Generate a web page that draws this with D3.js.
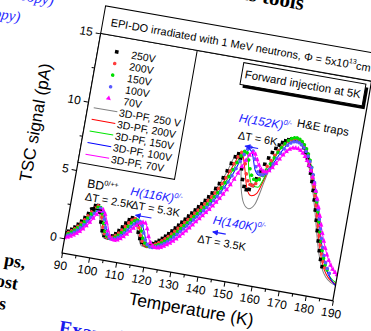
<!DOCTYPE html>
<html>
<head>
<meta charset="utf-8">
<script src="https://cdn.jsdelivr.net/npm/d3@7"></script>
<style>
  body { margin: 0; background: #fff; }
  svg { display: block; }
</style>
</head>
<body>
<svg id="chart" width="371" height="331"></svg>
<script>
// ---- data -------------------------------------------------------------
// TSC signal (pA) measured at 1 K steps starting at 90 K
const tempStart = 90;
const meas250 = [0.40,0.55,0.72,0.92,1.15,1.42,1.72,2.05,2.40,2.70,2.75,2.30,1.60,1.00,0.68,0.58,0.62,0.76,0.96,1.22,
  1.52,1.84,2.12,2.30,2.24,1.88,1.35,0.92,0.66,0.56,0.56,0.62,0.72,0.86,1.02,1.20,1.40,1.62,1.86,2.10,
  2.35,2.60,2.86,3.12,3.38,3.64,3.90,4.16,4.44,4.74,5.06,5.42,5.82,6.28,6.82,7.40,7.92,8.18,7.90,7.15,
  6.40,5.92,5.72,5.78,6.10,6.62,7.20,7.76,8.25,8.68,9.02,9.30,9.52,9.68,9.80,9.88,9.92,9.90,9.82,9.66,
  9.42,9.10,8.70,8.22,7.70,7.12,6.50,5.84,5.14,4.42,3.70,2.98,2.30,1.70,1.20];
const meas200 = [0.32,0.45,0.62,0.80,1.02,1.28,1.56,1.88,2.22,2.54,2.72,2.55,1.95,1.28,0.82,0.60,0.58,0.66,0.82,1.04,
  1.30,1.60,1.90,2.14,2.26,2.12,1.68,1.15,0.76,0.56,0.50,0.52,0.60,0.72,0.86,1.03,1.22,1.42,1.64,1.88,
  2.12,2.37,2.62,2.88,3.14,3.40,3.66,3.92,4.19,4.47,4.77,5.10,5.46,5.86,6.32,6.85,7.42,7.96,8.32,8.20,
  7.55,6.85,6.38,6.14,6.10,6.28,6.66,7.14,7.64,8.10,8.52,8.88,9.20,9.46,9.68,9.84,9.94,9.96,9.90,9.76,
  9.54,9.26,8.90,8.46,7.96,7.40,6.80,6.16,5.48,4.78,4.06,3.36,2.70,2.10,1.58,1.16];
const meas150 = [0.25,0.36,0.52,0.70,0.90,1.14,1.42,1.72,2.06,2.38,2.62,2.64,2.20,1.55,1.00,0.68,0.56,0.58,0.70,0.88,
  1.10,1.36,1.64,1.92,2.12,2.20,1.98,1.48,0.98,0.66,0.50,0.46,0.50,0.60,0.72,0.87,1.04,1.23,1.44,1.66,
  1.90,2.14,2.39,2.64,2.90,3.16,3.42,3.68,3.94,4.22,4.50,4.82,5.16,5.54,5.96,6.44,6.98,7.54,8.06,8.42,
  8.36,7.86,7.26,6.82,6.56,6.50,6.62,6.94,7.38,7.86,8.34,8.78,9.16,9.48,9.74,9.92,10.02,10.04,9.98,9.84,
  9.64,9.38,9.04,8.62,8.14,7.60,7.02,6.40,5.74,5.06,4.36,3.66,2.98,2.36,1.82,1.38,1.04];
const meas100 = [0.15,0.25,0.38,0.54,0.73,0.95,1.20,1.50,1.82,2.14,2.42,2.58,2.40,1.86,1.26,0.82,0.58,0.52,0.58,0.72,
  0.90,1.12,1.37,1.64,1.88,2.06,2.14,1.88,1.36,0.90,0.60,0.46,0.44,0.50,0.60,0.72,0.87,1.04,1.24,1.45,
  1.68,1.92,2.16,2.41,2.66,2.92,3.18,3.44,3.70,3.97,4.25,4.55,4.87,5.22,5.60,6.04,6.54,7.10,7.66,8.20,
  8.62,8.80,8.56,8.00,7.48,7.14,6.98,6.98,7.14,7.46,7.88,8.32,8.74,9.10,9.40,9.60,9.72,9.76,9.72,9.60,
  9.42,9.18,8.88,8.52,8.10,7.62,7.08,6.50,5.88,5.22,4.54,3.86,3.20,2.58,2.02,1.54,1.14,0.82];
const meas70 = [0.05,0.12,0.22,0.35,0.50,0.68,0.90,1.16,1.46,1.78,2.10,2.38,2.50,2.22,1.62,1.06,0.70,0.52,0.48,0.54,
  0.68,0.86,1.08,1.32,1.58,1.82,2.00,2.10,2.08,1.70,1.16,0.76,0.54,0.46,0.48,0.56,0.68,0.82,0.98,1.16,
  1.36,1.58,1.81,2.05,2.30,2.56,2.82,3.08,3.34,3.60,3.87,4.16,4.46,4.78,5.12,5.48,5.88,6.32,6.80,7.30,
  7.80,8.22,8.44,8.36,8.00,7.62,7.36,7.24,7.24,7.36,7.62,7.96,8.32,8.66,8.94,9.14,9.26,9.30,9.28,9.18,
  9.02,8.80,8.54,8.22,7.86,7.44,6.98,6.48,5.94,5.36,4.76,4.16,3.58,3.04,2.54,2.10,1.72,1.40,1.14,0.94,0.80];

// 3D-PF simulated curves at 2 K steps, 90 K to 190 K
const fitStep = 2;
const fit250 = [0.30,0.60,1.05,1.62,2.30,2.70,1.40,0.50,0.48,0.90,1.48,2.10,2.22,1.20,0.42,0.36,0.58,0.92,1.34,1.80,
  2.30,2.82,3.34,3.86,4.40,5.02,5.78,6.78,7.96,7.80,5.80,4.70,4.40,4.80,6.60,8.40,9.40,9.80,9.92,9.84,
  9.40,8.60,7.60,6.40,5.00,3.50,2.10,1.10,0.50,0.20,0.05];
const fit200 = [0.22,0.50,0.90,1.44,2.10,2.72,1.90,0.70,0.46,0.74,1.26,1.88,2.26,1.70,0.62,0.38,0.50,0.80,1.18,1.62,
  2.10,2.60,3.12,3.64,4.18,4.76,5.44,6.30,7.40,8.30,7.30,5.90,5.36,5.60,6.90,8.30,9.20,9.70,9.92,9.88,
  9.50,8.80,7.86,6.70,5.36,3.90,2.50,1.40,0.70,0.32,0.14];
const fit150 = [0.16,0.42,0.78,1.28,1.92,2.58,2.30,1.00,0.50,0.62,1.06,1.62,2.12,2.04,1.00,0.44,0.44,0.68,1.02,1.42,
  1.88,2.38,2.90,3.42,3.94,4.50,5.14,5.94,6.96,8.06,8.30,6.90,6.06,6.04,7.00,8.24,9.16,9.74,10.00,9.96,
  9.60,8.98,8.10,7.00,5.72,4.30,2.92,1.76,0.96,0.48,0.24];
const fit100 = [0.10,0.32,0.64,1.10,1.72,2.38,2.48,1.40,0.60,0.54,0.88,1.38,1.92,2.16,1.50,0.56,0.40,0.58,0.88,1.24,
  1.68,2.16,2.66,3.18,3.70,4.26,4.88,5.62,6.56,7.70,8.70,8.30,7.20,6.88,7.10,7.90,8.80,9.46,9.76,9.74,
  9.42,8.86,8.06,7.06,5.86,4.50,3.08,1.86,0.96,0.40,0.02];
const fit70 = [0.04,0.20,0.48,0.86,1.42,2.08,2.50,1.80,0.80,0.48,0.66,1.06,1.56,2.00,2.10,1.10,0.50,0.46,0.66,0.96,
  1.34,1.78,2.28,2.80,3.32,3.86,4.44,5.10,5.86,6.78,7.80,8.46,7.90,7.34,7.26,7.60,8.30,8.92,9.24,9.28,
  9.02,8.54,7.86,6.98,5.94,4.76,3.58,2.54,1.72,1.12,0.80];

const measLabels = ["250V", "200V", "150V", "100V", "70V"];
const fitLabels = ["3D-PF, 250 V", "3D-PF, 200V", "3D-PF, 150V", "3D-PF, 100V", "3D-PF, 70V"];
const xTicks = [90, 100, 110, 120, 130, 140, 150, 160, 170, 180, 190];
const yTicks = [0, 5, 10, 15];

// ---- styling ---------------------------------------------------------
const measColors = ["#000000", "#ff3c3c", "#00dd00", "#5a5aff", "#ff00ff"];
const measShapes = ["square", "circle", "circle", "circle", "triangle"];
const fitColors = ["#808080", "#ff0000", "#00e600", "#0000ff", "#ff00ff"];
const measSeries = [meas250, meas200, meas150, meas100, meas70];
const fitSeries = [fit250, fit200, fit150, fit100, fit70];

const sans = "'Liberation Sans', Arial, sans-serif";
const serif = "'Liberation Serif', 'Times New Roman', serif";

const W = 275, H = 223;
const svg = d3.select("#chart");
// the slide is photographed at a slight tilt
const base = svg.append("g").attr("transform", "translate(62,253) rotate(10)");
const plot = base.append("g").attr("transform", `translate(0,${-H})`);

const x = d3.scaleLinear().domain([90, 190]).range([0, W]);
const y = d3.scaleLinear().domain([-1.08, 15]).range([H, 0]);

// ---- axes ------------------------------------------------------------
function styleAxis(g) {
  g.select(".domain").remove();
  g.attr("font-family", sans).attr("font-size", 12);
  g.selectAll("line").attr("stroke", "#000").attr("stroke-width", 1);
  g.selectAll("text").attr("fill", "#000");
}
plot.append("g").attr("transform", `translate(0,${H})`)
  .call(d3.axisBottom(x).tickValues(xTicks).tickSize(5).tickPadding(3).tickSizeOuter(0))
  .call(styleAxis);
plot.append("g").attr("transform", `translate(0,${H})`)
  .call(d3.axisBottom(x).tickValues(xTicks.slice(0, -1).map(t => t + 5)).tickSize(3).tickFormat("").tickSizeOuter(0))
  .call(styleAxis);
plot.append("g")
  .call(d3.axisLeft(y).tickValues(yTicks).tickSize(5).tickPadding(3).tickSizeOuter(0))
  .call(styleAxis);
plot.append("g")
  .call(d3.axisLeft(y).tickValues([2.5, 7.5, 12.5]).tickSize(3).tickFormat("").tickSizeOuter(0))
  .call(styleAxis);

// ---- curves ----------------------------------------------------------
plot.append("clipPath").attr("id", "plotClip")
  .append("rect").attr("width", W).attr("height", H);
const area = plot.append("g").attr("clip-path", "url(#plotClip)");

const line = d3.line()
  .x(d => x(d[0])).y(d => y(d[1]))
  .curve(d3.curveMonotoneX);

fitSeries.forEach((vals, i) => {
  const pts = vals.map((v, k) => [tempStart + k * fitStep, v]);
  area.append("path").datum(pts)
    .attr("d", line)
    .attr("fill", "none")
    .attr("stroke", fitColors[i])
    .attr("stroke-width", 1);
});

const triangle = d3.symbol().type(d3.symbolTriangle).size(11);
function drawMarker(sel, shape, color) {
  if (shape === "square") {
    sel.append("rect").attr("x", -1.8).attr("y", -1.8).attr("width", 3.6).attr("height", 3.6).attr("fill", color);
  } else if (shape === "circle") {
    sel.append("circle").attr("r", 1.8).attr("fill", color);
  } else {
    sel.append("path").attr("d", triangle).attr("fill", color);
  }
}

measSeries.forEach((vals, i) => {
  const pts = vals.map((v, k) => [tempStart + k, v]);
  const g = area.append("g");
  pts.forEach(p => {
    const m = g.append("g").attr("transform", `translate(${x(p[0])},${y(p[1])})`);
    drawMarker(m, measShapes[i], measColors[i]);
  });
});

// frame
plot.append("rect").attr("width", W).attr("height", H)
  .attr("fill", "none").attr("stroke", "#000").attr("stroke-width", 1.2);

// ---- legend ----------------------------------------------------------
const legend = base.append("g");
legend.append("rect").attr("x", 0).attr("y", -H).attr("width", 98).attr("height", H - 92)
  .attr("fill", "#fff").attr("stroke", "#000").attr("stroke-width", 1);
const legY0 = -207.6, legStep = 11.8;
measLabels.forEach((lab, i) => {
  const yy = legY0 + i * legStep;
  const m = legend.append("g").attr("transform", `translate(19,${yy})`);
  drawMarker(m, measShapes[i], measColors[i]);
  legend.append("text").attr("x", 34).attr("y", yy + 4).text(lab)
    .attr("font-family", sans).attr("font-size", 10.5);
});
fitLabels.forEach((lab, i) => {
  const yy = legY0 + (i + 5) * legStep;
  legend.append("line").attr("x1", 6).attr("x2", 30).attr("y1", yy).attr("y2", yy)
    .attr("stroke", fitColors[i]).attr("stroke-width", 1);
  legend.append("text").attr("x", 32).attr("y", yy + 4).text(lab)
    .attr("font-family", sans).attr("font-size", 10.5);
});

// ---- title box & injection note -------------------------------------
base.append("rect").attr("x", 0).attr("y", -251).attr("width", 360).attr("height", 28)
  .attr("fill", "#fff").attr("stroke", "#000").attr("stroke-width", 1);
const title = base.append("text").attr("x", 8).attr("y", -232)
  .attr("font-family", sans).attr("font-size", 11);
title.append("tspan").text("EPI-DO irradiated with 1 MeV neutrons, \u03A6 = 5x10");
title.append("tspan").attr("font-size", 7).attr("dy", -5).text("13");
title.append("tspan").attr("dy", 5).text("cm");
title.append("tspan").attr("font-size", 7).attr("dy", -5).text("-2");

base.append("rect").attr("x", 149).attr("y", -216).attr("width", 124).attr("height", 22)
  .attr("fill", "#000");
base.append("rect").attr("x", 146).attr("y", -219).attr("width", 124).attr("height", 22)
  .attr("fill", "#fff").attr("stroke", "#000").attr("stroke-width", 1);
base.append("text").attr("x", 208).attr("y", -204).attr("text-anchor", "middle")
  .attr("font-family", sans).attr("font-size", 11.5).text("Forward injection at 5K");

// ---- peak annotations ------------------------------------------------
base.append("defs").append("marker").attr("id", "ahBlack")
  .attr("viewBox", "0 0 6 6").attr("refX", 5).attr("refY", 3)
  .attr("markerWidth", 5).attr("markerHeight", 5).attr("orient", "auto")
  .append("path").attr("d", "M0,0L6,3L0,6Z").attr("fill", "#000");
base.select("defs").append("marker").attr("id", "ahBlue")
  .attr("viewBox", "0 0 6 6").attr("refX", 5).attr("refY", 3)
  .attr("markerWidth", 5).attr("markerHeight", 5).attr("orient", "auto")
  .append("path").attr("d", "M0,0L6,3L0,6Z").attr("fill", "#2020ff");

function label(xp, yp, main, sup, color, italic, size) {
  const t = base.append("text").attr("x", xp).attr("y", yp)
    .attr("font-family", sans).attr("font-size", size).attr("fill", color)
    .attr("font-style", italic ? "italic" : "normal");
  t.append("tspan").text(main);
  if (sup) t.append("tspan").attr("font-size", size * 0.6).attr("dy", -5).text(sup);
}
function arrow(x1, x2, yy, id, color) {
  base.append("line").attr("x1", x1).attr("x2", x2).attr("y1", yy).attr("y2", yy)
    .attr("stroke", color).attr("stroke-width", 1.2).attr("marker-end", `url(#${id})`);
}
const blue = "#2020ff";
label(13, -69, "BD", "0/++", "#000", false, 12);
label(13, -56, "\u0394T = 2.5K", null, "#000", false, 11);
arrow(32, 20, -49, "ahBlack", "#000");

label(57, -69, "H(116K)", "0/-", blue, true, 12);
label(60, -56, "\u0394T = 5.3K", null, "#000", false, 11);
arrow(82, 66, -50, "ahBlue", blue);

label(143, -55, "H(140K)", "0/-", blue, true, 12);
arrow(158, 145, -47, "ahBlue", blue);
label(131, -34, "\u0394T = 3.5K", null, "#000", false, 11);

label(151, -160, "H(152K)", "0/-", blue, true, 12);
label(153, -143, "\u0394T = 6K", null, "#000", false, 11);
arrow(175, 162, -137, "ahBlue", blue);

label(209, -165, "H&E traps", null, "#000", false, 11.5);

// ---- axis titles -----------------------------------------------------
base.append("text").attr("transform", "translate(-43,-124) rotate(-90)")
  .attr("text-anchor", "middle").attr("font-family", sans).attr("font-size", 17)
  .text("TSC signal (pA)");
base.append("text").attr("x", 137).attr("y", 39).attr("text-anchor", "middle")
  .attr("font-family", sans).attr("font-size", 17.5).text("Temperature (K)");

// ---- surrounding slide text -----------------------------------------
base.append("text").attr("x", 195).attr("y", -281).attr("text-anchor", "end")
  .attr("font-family", serif).attr("font-weight", "bold").attr("font-size", 21).text("ous tools");
base.append("text").attr("x", -52).attr("y", -242).attr("text-anchor", "end")
  .attr("font-family", serif).attr("font-style", "italic").attr("font-size", 15).attr("fill", "#2a2aff")
  .text("scopy)");
base.append("text").attr("x", -82).attr("y", -220).attr("text-anchor", "end")
  .attr("font-family", serif).attr("font-style", "italic").attr("font-size", 15).attr("fill", "#2a2aff")
  .text("opy)");
[["ps,", -34, 22], ["ost", -38, 44], ["s", -46, 66]].forEach(d => {
  base.append("text").attr("x", d[1]).attr("y", d[2]).attr("text-anchor", "end")
    .attr("font-family", serif).attr("font-weight", "bold").attr("font-size", 18).text(d[0]);
});
base.append("text").attr("x", 10).attr("y", 80)
  .attr("font-family", serif).attr("font-weight", "bold").attr("font-size", 20).attr("fill", "#1a1aee")
  .text("Example: T");
</script>
</body>
</html>
